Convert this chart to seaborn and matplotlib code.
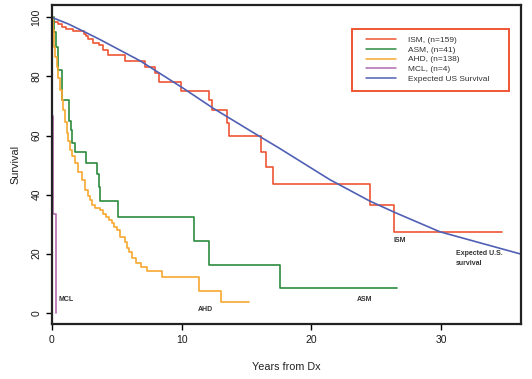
import pandas as pd
import matplotlib.pyplot as plt
import seaborn as sns
from matplotlib.lines import Line2D
from matplotlib.patches import Rectangle

# Kaplan-Meier survival estimates (years, % surviving)
ism_t = [0, 0.05, 0.45, 0.8, 1.1, 1.6, 2.5, 2.6, 2.8, 3.2, 3.6, 3.96, 4.34, 5.63, 7.17,
         7.94, 8.27, 9.95, 12.13, 12.3, 13.47, 13.67, 16.1, 16.5, 17.0, 24.5, 26.4, 34.7]
ism_s = [100, 98.5, 97.8, 96.9, 96.2, 95.3, 94.5, 93.6, 92.6, 91.3, 90.7, 88.9, 87.3, 85.3, 83.3,
         81.1, 78.2, 75.2, 72.0, 68.6, 64.1, 59.8, 54.5, 49.4, 43.7, 36.5, 27.4, 27.4]

asm_t = [0, 0.15, 0.3, 0.49, 0.78, 1.35, 1.45, 1.55, 1.8, 2.6, 3.5, 3.6, 3.7, 5.1,
         10.95, 12.1, 17.6, 26.6]
asm_s = [100, 95.1, 90.1, 82.2, 72.0, 65.0, 62.0, 57.4, 54.3, 50.8, 47.0, 42.5, 37.8, 32.5,
         24.3, 16.2, 8.3, 8.3]

ahd_t = [0, 0.05, 0.15, 0.25, 0.36, 0.5, 0.62, 0.75, 0.87, 1.0, 1.13, 1.25, 1.39, 1.55,
         1.77, 2.0, 2.29, 2.54, 2.75, 2.93, 3.1, 3.3, 3.7, 3.95, 4.2, 4.4, 4.6, 4.8, 5.0,
         5.25, 5.63, 5.76, 5.9, 6.15, 6.5, 6.9, 7.3, 8.5, 11.3, 13.0, 15.2]
ahd_s = [100, 95.7, 90.1, 86.5, 83.3, 79.5, 75.4, 72.0, 68.6, 64.5, 60.7, 58.0, 55.1, 53.0,
         50.6, 47.5, 44.9, 41.6, 39.5, 38.2, 36.5, 35.4, 34.8, 33.5, 32.5, 31.5, 30.3, 29.0, 28.0,
         25.7, 24.0, 22.0, 20.7, 18.4, 16.7, 15.4, 14.2, 12.2, 7.3, 3.6, 3.6]

mcl_t = [0, 0.02, 0.1, 0.31]
mcl_s = [100, 66.7, 33.3, 0]

# expected US population survival
exp_t = [0, 1.3, 2.56, 3.7, 6.79, 10.12, 12.44, 16.04, 17.45, 21.4, 24.5, 26.4, 29.9, 36.1]
exp_s = [100, 97.7, 95.0, 92.5, 85.3, 76.0, 69.2, 59.6, 55.9, 45.1, 37.8, 34.0, 27.4, 19.9]

groups = ["ISM, (n=159)", "ASM, (n=41)", "AHD, (n=138)", "MCL, (n=4)"]
colors = {"ISM, (n=159)": "#ee5533", "ASM, (n=41)": "#2e8b3e",
          "AHD, (n=138)": "#f7a830", "MCL, (n=4)": "#b06cb0"}
exp_color = "#5060b4"

km = pd.concat([
    pd.DataFrame({"years": ism_t, "survival": ism_s, "group": groups[0]}),
    pd.DataFrame({"years": asm_t, "survival": asm_s, "group": groups[1]}),
    pd.DataFrame({"years": ahd_t, "survival": ahd_s, "group": groups[2]}),
    pd.DataFrame({"years": mcl_t, "survival": mcl_s, "group": groups[3]}),
])
expected = pd.DataFrame({"years": exp_t, "survival": exp_s})

sns.set_style("white")
plt.rcParams["font.family"] = ["Liberation Sans", "DejaVu Sans"]

fig = plt.figure(figsize=(5.32, 3.79), dpi=100)
ax = fig.add_axes([0.0977, 0.1451, 0.8816, 0.8417])

sns.lineplot(data=km, x="years", y="survival", hue="group", palette=colors,
             estimator=None, sort=False, drawstyle="steps-post", lw=1.2,
             legend=False, ax=ax)
sns.lineplot(data=expected, x="years", y="survival", color=exp_color,
             estimator=None, sort=False, lw=1.2, ax=ax)

ax.set_xlim(0, 36.15)
ax.set_ylim(-3.83, 104.2)
ax.set_xticks([0, 10, 20, 30])
ax.set_yticks([0, 20, 40, 60, 80, 100])
ax.tick_params(axis="both", direction="out", length=4, width=1, color="black",
               labelsize=7.5, labelcolor="#1a1a1a", bottom=True, left=True)
ax.tick_params(axis="x", pad=4)
plt.setp(ax.get_yticklabels(), rotation=90, va="center")
for sp in ax.spines.values():
    sp.set_color("#222222")
    sp.set_linewidth(1.6)

ax.set_xlabel("Years from Dx", fontsize=7.8, color="#222222", labelpad=12)
ax.set_ylabel("Survival", fontsize=7.8, color="#222222", labelpad=8)

# group labels on the curves
lab = dict(fontsize=5, fontweight="bold", color="#333333", ha="center", va="center")
ax.text(1.08, 4.3, "MCL", **lab)
ax.text(11.8, 1.25, "AHD", **lab)
ax.text(24.1, 4.3, "ASM", **lab)
ax.text(26.8, 24.6, "ISM", **lab)
ax.text(31.15, 18.3, "Expected U.S.\nsurvival", fontsize=5, fontweight="bold",
        color="#333333", ha="left", va="center", linespacing=1.5)

# legend with an R-style box
handles = [Line2D([], [], color=colors[g], lw=1.1) for g in groups]
handles.append(Line2D([], [], color=exp_color, lw=1.1))
labels = groups + ["Expected US Survival"]
leg = ax.legend(handles, labels, loc="upper left", bbox_to_anchor=(0.6695, 0.903),
                frameon=False, fontsize=6, handlelength=3.6, handletextpad=1.5,
                labelspacing=0.24, borderpad=0, borderaxespad=0)
for t in leg.get_texts():
    t.set_color("#333333")
ax.add_patch(Rectangle((0.6393, 0.7315), 0.3348, 0.1928, transform=ax.transAxes,
                       fill=False, edgecolor="#ee5533", lw=1.4, zorder=5))

fig.savefig("out.png", dpi=100)
